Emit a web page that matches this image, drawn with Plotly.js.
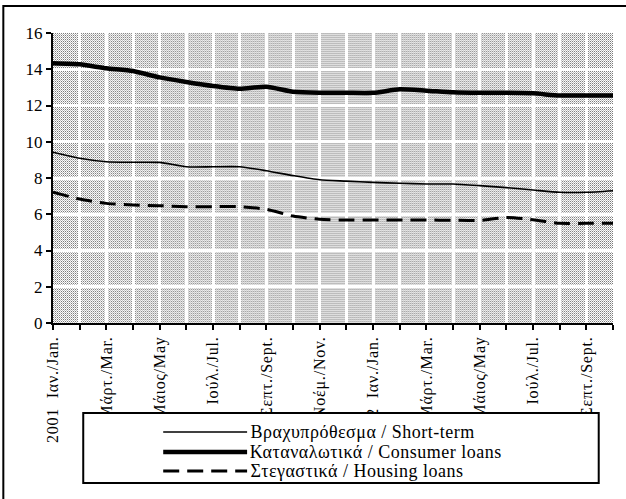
<!DOCTYPE html>
<html>
<head>
<meta charset="utf-8">
<script src="https://cdn.plot.ly/plotly-3.0.1.min.js"></script>
<style>
html,body{margin:0;padding:0;background:#fff;}
#chart{width:626px;height:499px;}
#chart .xtick text{letter-spacing:0.8px;}
#chart .annotation-text{letter-spacing:0.5px;}
</style>
</head>
<body>
<div id="chart"></div>
<script>
// Monthly observations: Jan 2001 ... Oct 2002
const monthIndex = [0,1,2,3,4,5,6,7,8,9,10,11,12,13,14,15,16,17,18,19,20,21];
const tickLabels = [
  "2001  Ιαν./Jan.", "", "Μάρτ./Mar.", "", "Μάιος/May", "", "Ιούλ./Jul.", "", "Σεπτ./Sept.", "", "Νοέμ./Nov.", "",
  "2002  Ιαν./Jan.", "", "Μάρτ./Mar.", "", "Μάιος/May", "", "Ιούλ./Jul.", "", "Σεπτ./Sept.", ""
];
const shortTerm = [9.42, 9.09, 8.90, 8.87, 8.86, 8.62, 8.62, 8.62, 8.40, 8.13, 7.90, 7.83, 7.76, 7.71, 7.67, 7.67, 7.58, 7.47, 7.34, 7.21, 7.21, 7.30];
const consumer  = [14.33, 14.27, 14.05, 13.90, 13.55, 13.30, 13.08, 12.93, 13.04, 12.76, 12.70, 12.70, 12.70, 12.89, 12.82, 12.73, 12.70, 12.70, 12.67, 12.55, 12.55, 12.55];
const housing   = [7.21, 6.84, 6.60, 6.51, 6.47, 6.42, 6.42, 6.42, 6.27, 5.90, 5.72, 5.68, 5.68, 5.68, 5.68, 5.67, 5.66, 5.82, 5.70, 5.50, 5.50, 5.50];
const seriesNames = ["Βραχυπρόθεσμα / Short-term", "Καταναλωτικά / Consumer loans", "Στεγαστικά / Housing loans"];

const FONT = "Liberation Serif";

const lineStyles = [
  {color: "#000", width: 1.6},
  {color: "#000", width: 4.5},
  {color: "#000", width: 3, dash: "16px,8px"}
];

const patternSvg = "<svg xmlns='http://www.w3.org/2000/svg' width='561' height='290' shape-rendering='crispEdges'>" +
  "<defs><pattern id='p' width='2' height='2' patternUnits='userSpaceOnUse'>" +
  "<rect width='2' height='2' fill='#ffffff'/><rect width='1' height='1' fill='#7a7a7a'/><rect x='1' y='1' width='1' height='1' fill='#bdbdbd'/>" +
  "</pattern></defs><rect width='561' height='290' fill='url(#p)'/></svg>";
const patternSrc = "data:image/svg+xml;base64," + btoa(patternSvg);

const seriesData = [shortTerm, consumer, housing];
const traces = seriesData.map((ys, i) => ({
  x: monthIndex, y: ys, name: seriesNames[i], type: "scatter", mode: "lines",
  line: Object.assign({shape: "spline", smoothing: 0.6}, lineStyles[i])
}));

// Legend (boxed, drawn below the plot like the original)
const legendRowY = [-0.3759, -0.4448, -0.5103];
const legendShapes = seriesNames.map((n, i) => ({
  type: "line", xref: "paper", yref: "paper", x0: 0.1968, x1: 0.3466, y0: legendRowY[i], y1: legendRowY[i],
  line: lineStyles[i], layer: "above"
}));
const legendTexts = seriesNames.map((n, i) => ({
  xref: "paper", yref: "paper", x: 0.3609, y: legendRowY[i], xanchor: "left", yanchor: "middle",
  text: n, showarrow: false, font: {family: FONT, size: 18, color: "#000"}
}));

const layout = {
  width: 626, height: 499,
  margin: {l: 52.7, r: 12.7, t: 33, b: 176, autoexpand: false},
  paper_bgcolor: "#fff",
  plot_bgcolor: "rgba(0,0,0,0)",
  font: {family: FONT, size: 17, color: "#000"},
  showlegend: false,
  annotations: legendTexts,
  xaxis: {
    range: [0, 21], tickmode: "array", tickvals: monthIndex, ticktext: tickLabels,
    tickangle: -90, ticks: "outside", ticklen: 5, tickwidth: 2, tickcolor: "#000",
    showline: true, linecolor: "#000", linewidth: 2, automargin: false,
    showgrid: true, gridcolor: "#fff", gridwidth: 3, zeroline: false,
    tickfont: {family: FONT, size: 16, color: "#000"}, fixedrange: true
  },
  yaxis: {
    range: [0, 16], dtick: 2, tick0: 0, ticks: "outside", ticklen: 5, tickwidth: 2, tickcolor: "#000",
    showline: true, linecolor: "#000", linewidth: 2, automargin: false,
    showgrid: true, gridcolor: "#fff", gridwidth: 3, zeroline: false,
    tickfont: {family: FONT, size: 17, color: "#000"}, fixedrange: true
  },
  images: [{
    source: patternSrc, xref: "paper", yref: "paper", x: 0, y: 1, sizex: 1, sizey: 1,
    xanchor: "left", yanchor: "top", sizing: "stretch", layer: "below"
  }],
  shapes: [
    {type: "rect", xref: "paper", yref: "paper", x0: -0.0887, x1: 1.3, y0: -1.0, y1: 1.0931,
     line: {color: "#000", width: 2}, fillcolor: "rgba(0,0,0,0)", layer: "above"},
    {type: "rect", xref: "paper", yref: "paper", x0: 0.054, x1: 0.9745, y0: -0.5517, y1: -0.3103,
     line: {color: "#000", width: 2}, fillcolor: "#fff", layer: "above"}
  ].concat(legendShapes)
};

Plotly.newPlot("chart", traces, layout, {displayModeBar: false, staticPlot: true});
</script>
</body>
</html>
